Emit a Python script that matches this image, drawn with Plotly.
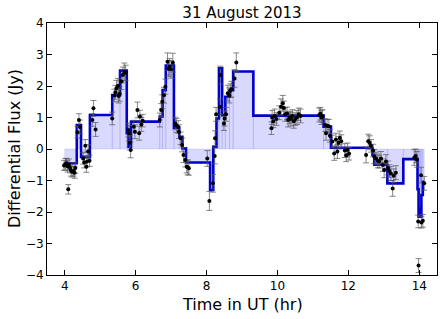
import plotly.graph_objects as go

# Bayesian-block style step levels (block edges in hours, flux in Jy)
block_edges = [4.00, 4.34, 4.46, 4.71, 5.34, 5.56, 5.75, 5.80, 5.87, 6.68, 6.76, 6.85,
               7.08, 7.23, 7.32, 7.42, 8.10, 8.19, 8.28, 8.35, 8.44, 8.53, 8.65, 8.75,
               9.32, 11.30, 11.51, 12.68, 12.73, 13.10, 13.55, 13.95, 13.98, 14.00,
               14.03, 14.06, 14.10, 14.14]
block_flux = [-0.45, 0.76, -0.25, 1.08, 1.71, 2.49, 0.50, 0.07, 0.87, 1.03, 1.87,
              2.65, 0.68, 0.39, 0.02, -0.43, -1.30, 0.07, 0.97, 2.56, 1.08, 1.66, 1.87,
              2.46, 1.06, 0.71, 0.04, -0.19, -0.50, -1.09, -0.32, -1.28, -2.15, -1.90,
              -2.15, -1.46, -1.04]

# Measured points
time_hr = [3.98, 4.02, 4.05, 4.08, 4.10, 4.12, 4.15, 4.18, 4.21, 4.25, 4.28, 4.30,
           4.36, 4.40, 4.43,
           4.52, 4.55, 4.58, 4.61, 4.63, 4.66, 4.70,
           4.78, 4.81, 4.87, 5.34,
           5.40, 5.43, 5.46, 5.50, 5.52, 5.55,
           5.60, 5.64, 5.68, 5.72,
           5.79, 5.82, 5.84, 5.86,
           5.95, 5.98, 6.05, 6.10, 6.12, 6.16, 6.20,
           6.68, 6.72, 6.75, 6.80, 6.84,
           6.90, 6.93, 6.96, 7.00, 7.05,
           7.12, 7.15, 7.20, 7.22, 7.27, 7.31, 7.35,
           7.40, 7.44, 7.47, 7.50,
           8.02, 8.08, 8.18, 8.23, 8.24, 8.27, 8.38, 8.39, 8.49, 8.51, 8.55, 8.60,
           8.64, 8.67, 8.70, 8.79, 8.84,
           9.83, 9.85, 9.88, 9.92, 9.97, 10.05, 10.10, 10.15, 10.18, 10.22, 10.27,
           10.30, 10.34, 10.38, 10.42, 10.46, 10.50, 10.55, 10.60, 10.65,
           11.18, 11.21, 11.24, 11.27,
           11.35, 11.37, 11.40, 11.45, 11.48,
           11.55, 11.60, 11.65, 11.69, 11.72, 11.76, 11.80, 11.90, 11.94, 11.98, 12.02,
           12.50, 12.56, 12.60, 12.64,
           12.70, 12.73, 12.78, 12.83, 12.87, 12.92, 12.97, 13.01, 13.06,
           13.12, 13.16, 13.20, 13.25, 13.28, 13.34,
           13.86, 13.90, 13.93,
           13.97, 13.98, 14.05, 14.06, 14.10, 14.14]
flux_jy = [-0.52, -0.48, -0.45, -0.55, -1.28, -0.50, -0.60, -0.68, -0.72, -0.70, -0.75, -0.60,
           0.53, 0.92, 0.70,
           -0.30, -0.43, 0.10, -0.56, -0.40, -0.08, -0.37,
           0.92, 1.29, 0.62, 0.97,
           1.70, 1.80, 1.93, 2.00, 1.68, 1.75,
           2.14, 2.35, 2.45, 2.42,
           0.60, 0.50, 0.20, -0.03,
           0.71, 0.55, 1.24, 0.50, 1.03, 0.78, 0.90,
           0.92, 1.24, 1.50, 1.71, 1.98,
           2.77, 2.55, 2.61, 2.53, 2.74,
           0.81, 0.75, 0.70, 0.55, 0.34, 0.13, -0.19,
           -0.35, -0.56, -0.58, -0.61,
           -0.30, -1.65, -1.09, -0.22, 0.34, 1.10, 1.34, 2.35, 0.81, 0.97, 1.10, 1.77,
           1.70, 1.85, 1.90, 2.24, 2.75,
           0.66, 1.00, 0.88, 1.05, 0.95, 1.15, 1.34, 1.45, 1.30, 1.10, 1.13,
           0.92, 1.00, 0.95, 1.05, 0.88, 0.95, 1.00, 1.10, 1.05,
           1.08, 1.12, 1.00, 1.05,
           0.76, 0.50, 0.74, 0.72, 0.42,
           0.24, -0.14, 0.30, -0.08, 0.20, 0.35, 0.25, -0.05, -0.20, -0.03, -0.15,
           -0.19, 0.25, 0.20, 0.10,
           -0.05, -0.24, -0.30, -0.38, -0.40, -0.30, -0.51, -0.67, -0.40,
           -0.60, -0.70, -0.78, -1.25, -0.85, -0.75,
           -0.27, -0.22, -0.33,
           -2.30, -3.70, -0.83, -2.33, -2.28, -1.09]
flux_err = [0.16, 0.18, 0.15, 0.18, 0.15, 0.18, 0.16, 0.18, 0.17, 0.16, 0.18, 0.17,
            0.18, 0.20, 0.22,
            0.18, 0.17, 0.20, 0.18, 0.17, 0.22, 0.18,
            0.20, 0.25, 0.22, 0.20,
            0.20, 0.22, 0.25, 0.24, 0.22, 0.23,
            0.25, 0.25, 0.28, 0.24,
            0.22, 0.24, 0.23, 0.25,
            0.20, 0.22, 0.25, 0.22, 0.20, 0.22, 0.20,
            0.22, 0.20, 0.22, 0.25, 0.24,
            0.28, 0.25, 0.26, 0.28, 0.30,
            0.20, 0.22, 0.20, 0.22, 0.20, 0.22, 0.24,
            0.22, 0.20, 0.24, 0.22,
            0.25, 0.30, 0.28, 0.25, 0.24, 0.22, 0.25, 0.28, 0.22, 0.24, 0.22, 0.25,
            0.24, 0.22, 0.25, 0.28, 0.30,
            0.20, 0.22, 0.20, 0.22, 0.20, 0.22, 0.25, 0.25, 0.22, 0.22, 0.20,
            0.22, 0.20, 0.22, 0.20, 0.22, 0.20, 0.22, 0.20, 0.22,
            0.22, 0.20, 0.22, 0.20,
            0.20, 0.22, 0.20, 0.22, 0.20,
            0.20, 0.22, 0.20, 0.22, 0.20, 0.22, 0.20, 0.22, 0.20, 0.22, 0.20,
            0.25, 0.22, 0.22, 0.20,
            0.20, 0.22, 0.20, 0.22, 0.20, 0.22, 0.20, 0.24, 0.22,
            0.22, 0.20, 0.22, 0.25, 0.22, 0.22,
            0.25, 0.22, 0.25,
            0.20, 0.22, 0.25, 0.18, 0.20, 0.22]

x_ticks = [4, 6, 8, 10, 12, 14]
y_ticks = [-4, -3, -2, -1, 0, 1, 2, 3, 4]
y_tick_text = ["\u22124", "\u22123", "\u22122", "\u22121", "0", "1", "2", "3", "4"]

centers = [(a + b) / 2 for a, b in zip(block_edges[:-1], block_edges[1:])]
widths = [b - a for a, b in zip(block_edges[:-1], block_edges[1:])]

W, H = 444, 319
ML, MR, MT, MB = 47, 7, 23, 44

fig = go.Figure()
fig.add_trace(go.Bar(
    x=centers, y=block_flux, width=widths,
    marker=dict(color="rgba(0,0,255,0.15)",
                line=dict(color="rgba(0,0,200,0.12)", width=0.8)),
    showlegend=False, hoverinfo="skip"))
fig.add_trace(go.Scatter(
    x=block_edges, y=block_flux + [block_flux[-1]],
    mode="lines", line=dict(color="#0000cc", width=2.6, shape="hv"),
    showlegend=False))
fig.add_trace(go.Scatter(
    x=time_hr, y=flux_jy, mode="markers",
    marker=dict(color="black", size=4),
    error_y=dict(type="data", array=flux_err, color="#555555", thickness=0.7, width=3),
    showlegend=False))

font_family = "DejaVu Sans"
fig.update_layout(
    width=W, height=H,
    margin=dict(l=ML, r=MR, t=MT, b=MB, autoexpand=False),
    paper_bgcolor="white", plot_bgcolor="white",
    barmode="overlay",
    font=dict(family=font_family, color="black", size=12),
    title=dict(text="31 August 2013", x=0.5, xref="paper", xanchor="center",
               y=1 - 13 / H, yref="container", yanchor="middle",
               font=dict(size=15, family=font_family, color="black")),
    xaxis=dict(range=[3.5, 14.5], tickvals=x_ticks, ticks="inside", ticklen=5,
               tickcolor="black", showline=True, linecolor="black", linewidth=1,
               mirror="allticks", showgrid=False, zeroline=False, automargin=False,
               tickfont=dict(size=12)),
    yaxis=dict(range=[-4, 4], tickvals=y_ticks, ticktext=y_tick_text, ticks="inside",
               ticklen=5, tickcolor="black", showline=True, linecolor="black",
               linewidth=1, mirror="allticks", showgrid=False, zeroline=False,
               automargin=False, tickfont=dict(size=12)),
    annotations=[
        dict(text="Time in UT (hr)", xref="paper", yref="paper",
             x=0.5, y=-(304 - (H - MB)) / (H - MT - MB), xanchor="center", yanchor="middle",
             showarrow=False, font=dict(size=16, family=font_family, color="black")),
        dict(text="Differential Flux (Jy)", xref="paper", yref="paper",
             x=-(ML - 14) / (W - ML - MR), y=0.5, xanchor="center", yanchor="middle",
             textangle=-90, showarrow=False,
             font=dict(size=16, family=font_family, color="black")),
    ],
)
fig.write_html("out.html", config={"displayModeBar": False},
               post_script="document.body.style.margin='0';document.body.style.padding='0';")
